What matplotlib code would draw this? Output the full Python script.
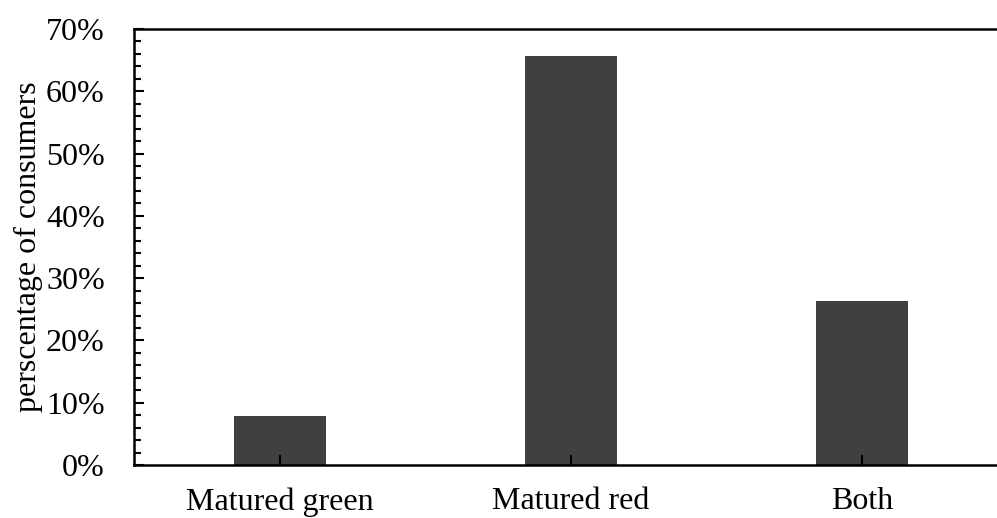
import numpy as np
import matplotlib.pyplot as plt
from matplotlib.ticker import PercentFormatter, MultipleLocator

# Dữ liệu
categories = ['Matured green', 'Matured red', 'Both']
values = [7.9, 65.7, 26.3]

plt.rcParams['font.family'] = ['Liberation Serif', 'DejaVu Serif']

fig = plt.figure(figsize=(9.97, 5.18), dpi=100)
ax = fig.add_axes([134/997, 53/518, 874/997, 436/518])

x = np.arange(len(categories))
ax.bar(x, values, width=0.315, color='#404040')

ax.set_xlim(-0.5, 2.5)
ax.set_ylim(0, 70)
ax.yaxis.set_major_locator(MultipleLocator(10))
ax.yaxis.set_minor_locator(MultipleLocator(2))
ax.yaxis.set_major_formatter(PercentFormatter(decimals=0))
ax.set_xticks(x)
ax.set_xticklabels(categories)

ax.tick_params(axis='both', which='major', direction='in', labelsize=23, width=1.5, length=7)
ax.tick_params(axis='y', which='minor', direction='in', width=1.5, length=5)
ax.tick_params(axis='x', pad=16)
ax.tick_params(axis='y', pad=21)

for s in ['left', 'bottom', 'top']:
    ax.spines[s].set_linewidth(1.8)
ax.spines['right'].set_visible(False)

ax.set_ylabel('perscentage of consumers', fontsize=23, labelpad=2)

fig.savefig('out.png', dpi=100)
